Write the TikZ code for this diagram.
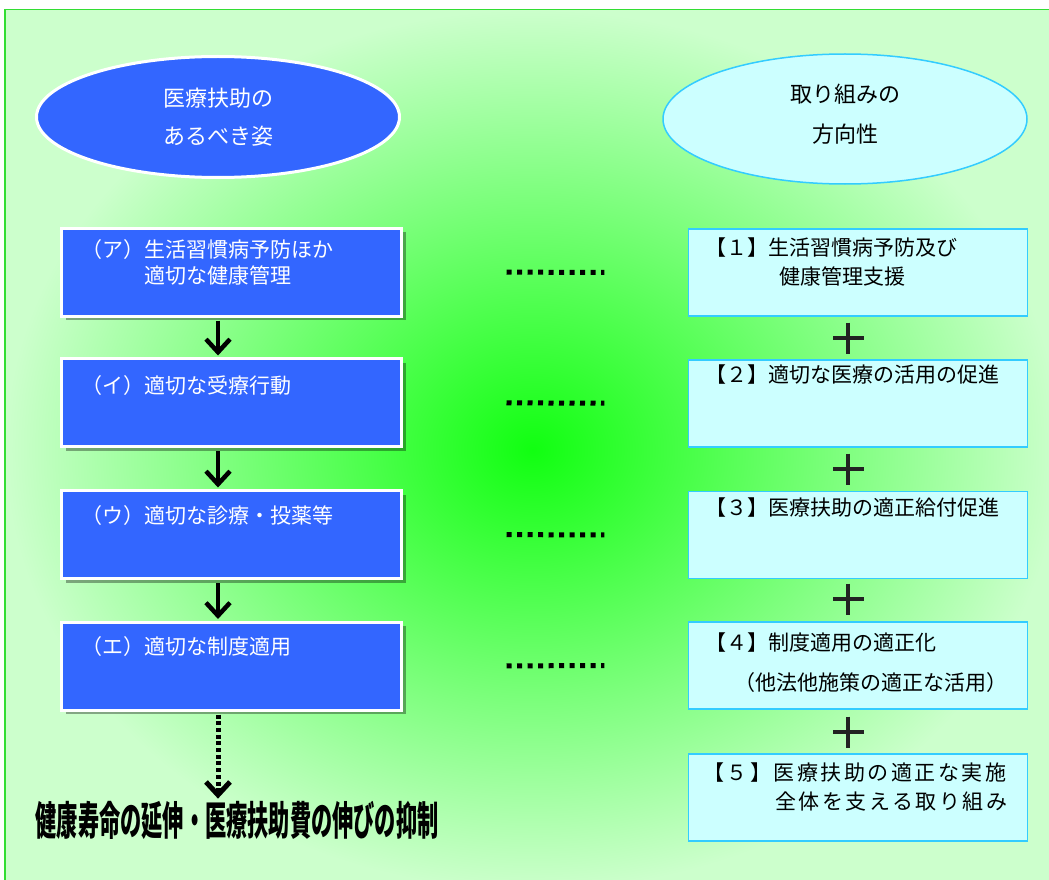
\documentclass[tikz,border=0pt]{standalone}
\usepackage{fontspec}
\usepackage{graphicx}
\setmainfont{Noto Sans CJK JP}
\usetikzlibrary{shapes.geometric,shadows,arrows.meta}
\definecolor{bgout}{HTML}{CCFFCC}
\definecolor{bgin}{HTML}{11FF11}
\definecolor{framegreen}{HTML}{33DD33}
\definecolor{blueone}{HTML}{3366FF}
\definecolor{cyanl}{HTML}{CCFFFF}
\definecolor{cyanb}{HTML}{33CCFF}
\definecolor{plusgray}{HTML}{222222}
\tikzset{
  lell/.style={ellipse, draw=white, line width=3pt, fill=blueone, minimum width=363pt, minimum height=121pt, inner sep=0pt, text=white, align=center, font=\fontsize{22}{38}\selectfont},
  rell/.style={ellipse, draw=cyanb, line width=1.5pt, fill=cyanl, minimum width=364pt, minimum height=130pt, inner sep=0pt, text=black, align=center, font=\fontsize{22}{40}\selectfont},
  lbox/.style={rectangle, fill=blueone, draw=white, line width=3pt, minimum width=340pt, minimum height=88pt, inner sep=0pt,
    drop shadow={shadow xshift=4pt, shadow yshift=-4pt, fill=black, opacity=0.35}},
  rbox/.style={rectangle, fill=cyanl, draw=cyanb, line width=1.5pt, minimum width=339pt, minimum height=87pt, inner sep=0pt},
  ltxt/.style={anchor=west, inner sep=0pt, text=white, font=\fontsize{21}{25}\selectfont},
  rtxt/.style={anchor=west, inner sep=0pt, text=black, font=\fontsize{21}{25}\selectfont},
  rtxtsp/.style={anchor=west, inner sep=0pt, text=black, font=\fontsize{21}{25}\selectfont\addfontfeatures{LetterSpace=12}},
  flowarr/.style={line width=4.5pt, black, -{Straight Barb[length=13pt, width=24pt]}},
  dotarr/.style={line width=5pt, black, dash pattern=on 4pt off 2.7pt, -{Straight Barb[length=13pt, width=24pt]}},
  hdots/.style={line width=5pt, black, dash pattern=on 5pt off 5.5pt},
  plussign/.style={line width=4.5pt, plusgray},
  goalstyle/.style={inner sep=0pt, text=black, font=\fontsize{40}{40}\selectfont\bfseries}
}
\begin{document}
\begin{tikzpicture}[x=1pt,y=-1pt]
\useasboundingbox (0,0) rectangle (1049,880);
\begin{scope}
  \clip (0,0) rectangle (1049,880);
  \shade[inner color=bgin, outer color=bgout] (5,9.5) rectangle (1060,890);
  \draw[framegreen, line width=1.5pt] (5,9.5) rectangle (1060,890);
\end{scope}

% ellipses
\node[lell] (le) at (218,117) {医療扶助の\\あるべき姿};
\node[rell] (re) at (845,119) {取り組みの\\方向性\\[-28pt]\mbox{}};

% left boxes
\node[lbox] (lb1) at (231.5,272) {};
\node[lbox] (lb2) at (231.5,402.5) {};
\node[lbox] (lb3) at (231.5,534.5) {};
\node[lbox] (lb4) at (231.5,666) {};

\node[ltxt] (lt1a) at (81,250) {（ア）生活習慣病予防ほか};
\node[ltxt] (lt1b) at (144,276) {適切な健康管理};
\node[ltxt] (lt2) at (81,386) {（イ）適切な受療行動};
\node[ltxt] (lt3) at (81,516) {（ウ）適切な診療・投薬等};
\node[ltxt] (lt4) at (81,647) {（エ）適切な制度適用};

% right boxes
\node[rbox] (rb1) at (858,272.5) {};
\node[rbox] (rb2) at (858,403.5) {};
\node[rbox] (rb3) at (858,535) {};
\node[rbox] (rb4) at (858,665.5) {};
\node[rbox] (rb5) at (858,797.5) {};

\node[rtxt] (rt1a) at (705,248) {【１】生活習慣病予防及び};
\node[rtxt] (rt1b) at (779,277) {健康管理支援};
\node[rtxt] (rt2) at (705,375) {【２】適切な医療の活用の促進};
\node[rtxt] (rt3) at (705,508) {【３】医療扶助の適正給付促進};
\node[rtxt] (rt4a) at (705,643) {【４】制度適用の適正化};
\node[rtxt] (rt4b) at (734,683) {（他法他施策の適正な活用）};
\node[rtxtsp] (rt5a) at (703,773) {【５】医療扶助の適正な実施};
\node[rtxtsp] (rt5b) at (775,802) {全体を支える取り組み};

% goal
\node[goalstyle] (goal) at (237,820) {\scalebox{0.53}[1]{健康寿命の延伸・医療扶助費の伸びの抑制}};

% arrows
\coordinate (ax) at (218,0);
\draw[flowarr, shorten <=3pt, shorten >=1.5pt] (lb1.south -| ax) -- (lb2.north -| ax);
\draw[flowarr, shorten <=3pt, shorten >=1.5pt] (lb2.south -| ax) -- (lb3.north -| ax);
\draw[flowarr, shorten <=3pt, shorten >=1.5pt] (lb3.south -| ax) -- (lb4.north -| ax);
\draw[dotarr, shorten <=3pt, shorten >=2pt] (lb4.south -| ax) -- (goal.north -| ax);

% dotted links
\draw[hdots, shorten <=103.5pt, shorten >=83.5pt] (lb1.east) -- (rb1.west);
\draw[hdots, shorten <=103.5pt, shorten >=83.5pt] (lb2.east) -- (rb2.west);
\draw[hdots, shorten <=103.5pt, shorten >=83.5pt] (lb3.east) -- (rb3.west);
\draw[hdots, shorten <=103.5pt, shorten >=83.5pt] (lb4.east) -- (rb4.west);

% plus signs
\foreach \py in {338,469,599,732}{
  \draw[plussign] (833,\py) -- (864,\py) (848,\py-15.5) -- (848,\py+15.5);
}
\end{tikzpicture}
\end{document}
